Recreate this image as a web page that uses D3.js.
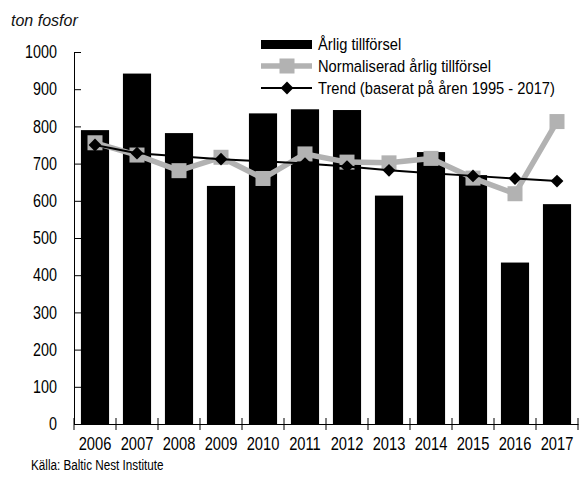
<!DOCTYPE html>
<html><head><meta charset="utf-8">
<script src="https://cdn.jsdelivr.net/npm/d3@7"></script>
<style>
html,body{margin:0;padding:0;background:#fff;}
svg{display:block;}
.nar{font-family:"Liberation Sans",Arial,sans-serif;}
</style></head>
<body>
<svg id="c" width="581" height="482"></svg>
<script>
const years = ["2006","2007","2008","2009","2010","2011","2012","2013","2014","2015","2016","2017"];
const annual = [790, 942, 782, 640, 835, 846, 844, 614, 731, 669, 434, 591];
const normalized = [756, 723, 681, 717, 660, 726, 704, 702, 714, 661, 619, 813];
const trend = [750, 728, 720, 712, 706, 700, 692, 682, 674, 667, 660, 653];
const yTicks = [0,100,200,300,400,500,600,700,800,900,1000];
const legendLabels = ["Årlig tillförsel","Normaliserad årlig tillförsel","Trend (baserat på åren 1995 - 2017)"];
const unitLabel = "ton fosfor";
const sourceLabel = "Källa: Baltic Nest Institute";

const svg = d3.select("#c");
const L = 74, R = 578, T = 52, B = 424;
const x = d3.scaleBand().domain(years).range([L, R]).paddingInner(0.33).paddingOuter(0.165);
const y = d3.scaleLinear().domain([0, 1000]).range([B, T]);
const cx = d => x(d) + x.bandwidth()/2;
const gray = "#b2b2b2";
// horizontally condense a text around its anchor x (narrow typeface look)
function condense(sel, f) {
  sel.each(function() {
    const ax = +(this.getAttribute("x") || 0);
    d3.select(this).attr("transform", `translate(${ax},0) scale(${f},1) translate(${-ax},0)`);
  });
}

// bars
svg.append("g").selectAll("rect").data(years).join("rect")
  .attr("x", d => x(d)).attr("width", x.bandwidth())
  .attr("y", (d,i) => y(annual[i])).attr("height", (d,i) => y(0) - y(annual[i]))
  .attr("fill", "#000");

// normalized line
const line = d3.line().x((d,i) => cx(years[i])).y(d => y(d));
svg.append("path").datum(normalized).attr("d", line)
  .attr("fill","none").attr("stroke",gray).attr("stroke-width",5.5).attr("stroke-linejoin","round");
const sq = 15;
svg.append("g").selectAll("rect").data(normalized).join("rect")
  .attr("x", (d,i) => cx(years[i]) - sq/2).attr("y", d => y(d) - sq/2)
  .attr("width", sq).attr("height", sq).attr("fill", gray);

// trend
svg.append("path").datum(trend).attr("d", line)
  .attr("fill","none").attr("stroke","#000").attr("stroke-width",2);
const diamond = d3.symbol().type(d3.symbolSquare).size(82);
svg.append("g").selectAll("path").data(trend).join("path")
  .attr("transform", (d,i) => `translate(${cx(years[i])},${y(d)}) rotate(45)`)
  .attr("d", diamond).attr("fill","#000");

// y axis
const ya = svg.append("g").attr("class","nar").attr("transform",`translate(${L},0)`)
  .call(d3.axisLeft(y).tickValues(yTicks).tickFormat(d3.format("d")).tickSizeInner(-7).tickSizeOuter(0).tickPadding(17));
ya.select(".domain").attr("stroke","#000").attr("stroke-width",1);
ya.selectAll("text").attr("font-size",17.5).attr("fill","#000").attr("font-family",null).call(condense, 0.82);

// x axis
const xa = svg.append("g").attr("class","nar").attr("transform",`translate(0,${B})`)
  .call(d3.axisBottom(x).tickSize(0).tickPadding(14));
xa.select(".domain").attr("stroke","#000");
xa.selectAll("text").attr("font-size",17.5).attr("fill","#000").attr("font-family",null).call(condense, 0.84);
const bx = d3.scaleLinear().domain([0, years.length]).range([L, R]);
svg.append("g").attr("transform",`translate(0,${B})`).selectAll("line").data(d3.range(years.length+1)).join("line")
  .attr("x1", d => bx(d)).attr("x2", d => bx(d)).attr("y1", -6).attr("y2", 6)
  .attr("stroke","#000").attr("stroke-width",1);

// unit label
svg.append("text").attr("x", 11).attr("y", 26).attr("font-family","Liberation Sans, Arial, sans-serif")
  .attr("font-style","italic").attr("font-size",16).attr("fill","#111").text(unitLabel);
// source
svg.append("text").attr("class","nar").attr("x", 31).attr("y", 470).attr("font-size",15).text(sourceLabel).call(condense, 0.78);

// legend
const lg = svg.append("g").attr("class","nar");
const ly = [44, 66, 88];
lg.append("rect").attr("x",261).attr("y",ly[0]-4).attr("width",51).attr("height",9).attr("fill","#000");
lg.append("line").attr("x1",261).attr("x2",312).attr("y1",ly[1]).attr("y2",ly[1]).attr("stroke",gray).attr("stroke-width",5.5);
lg.append("rect").attr("x",287-sq/2).attr("y",ly[1]-sq/2).attr("width",sq).attr("height",sq).attr("fill",gray);
lg.append("line").attr("x1",261).attr("x2",312).attr("y1",ly[2]).attr("y2",ly[2]).attr("stroke","#000").attr("stroke-width",2);
lg.append("path").attr("transform",`translate(287,${ly[2]}) rotate(45)`).attr("d",diamond).attr("fill","#000");
lg.selectAll("text.l").data(legendLabels).join("text").attr("class","l")
  .attr("x",318).attr("y",(d,i)=>ly[i]+6).attr("font-size",16.5).text(d=>d).call(condense, 0.89);
</script>
</body></html>
